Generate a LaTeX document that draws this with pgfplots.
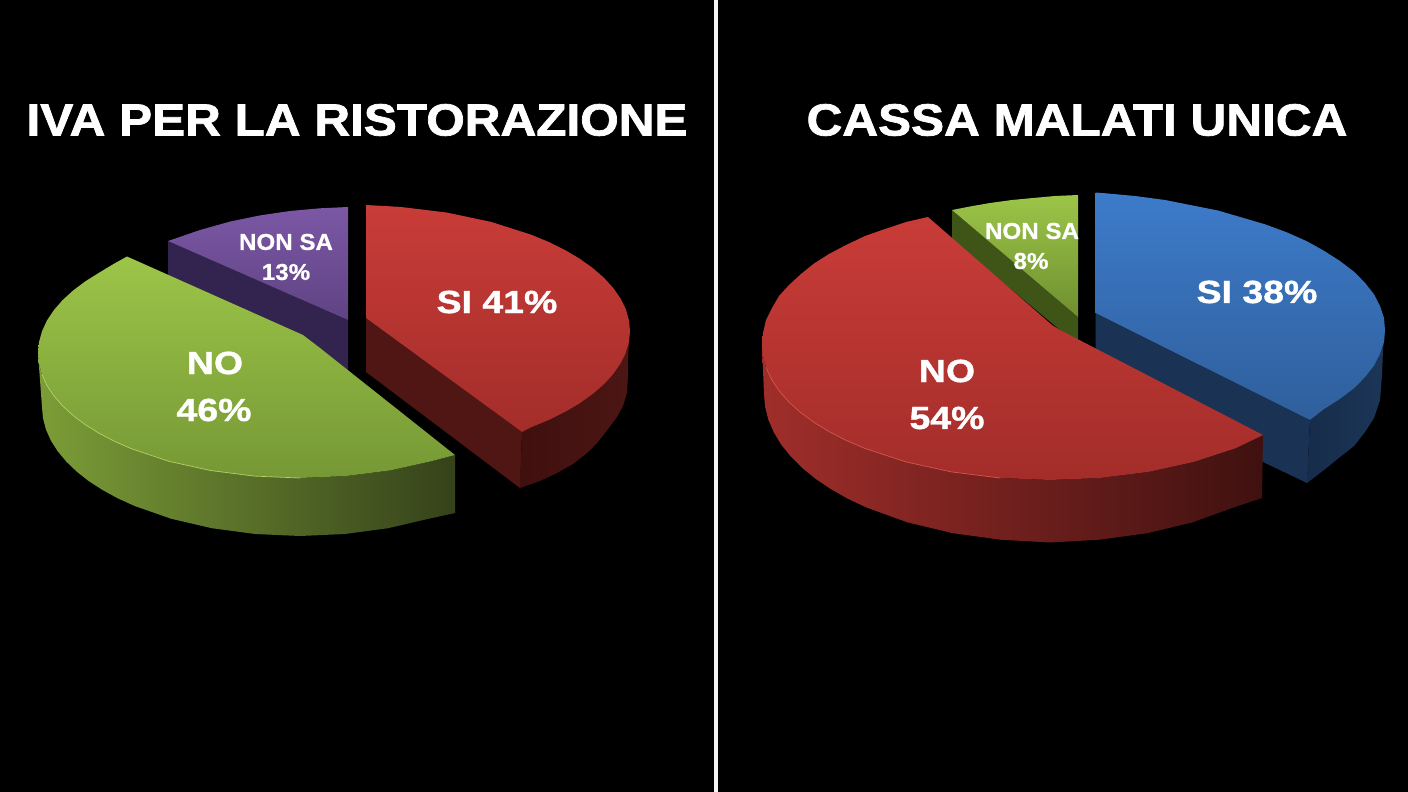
\documentclass[border=0pt]{standalone}
\usepackage{fontspec}
\setmainfont{Liberation Sans}
\newfontfamily\titleface{Liberation Sans}[FakeStretch=1.10,FakeBold=1.6]
\newfontfamily\bigface{Liberation Sans}[FakeStretch=1.17,FakeBold=1.2]
\newfontfamily\smallface{Liberation Sans}[FakeStretch=1.05,FakeBold=0.8]
\usepackage{pgfplots}
\pgfplotsset{compat=1.18}

\definecolor{divider}{HTML}{F4F4F4}
\definecolor{purpletop}{HTML}{7B57A5}
\definecolor{purplelow}{HTML}{5F4383}
\definecolor{purpleside}{HTML}{33234F}
\definecolor{redtop}{HTML}{C93C38}
\definecolor{redlow}{HTML}{A32D2A}
\definecolor{redface}{HTML}{4F1613}
\definecolor{redsidea}{HTML}{3F100E}
\definecolor{redsideb}{HTML}{4C1614}
\definecolor{greentop}{HTML}{9CC548}
\definecolor{greenlow}{HTML}{769835}
\definecolor{greena}{HTML}{7C9D37}
\definecolor{greenb}{HTML}{4E6626}
\definecolor{greenc}{HTML}{35421A}
\definecolor{greenedge}{HTML}{B4D568}
\definecolor{greenlowb}{HTML}{6F8F30}
\definecolor{greenside}{HTML}{3F5518}
\definecolor{bluetop}{HTML}{3D7BCA}
\definecolor{bluelow}{HTML}{2F5F9C}
\definecolor{blueface}{HTML}{1A3354}
\definecolor{bluesidea}{HTML}{162C4A}
\definecolor{bluesideb}{HTML}{1C3658}
\definecolor{bigreda}{HTML}{A02E2A}
\definecolor{bigredb}{HTML}{6E1F1C}
\definecolor{bigredc}{HTML}{3F1110}
\definecolor{rededge}{HTML}{D5574F}

\newcommand{\titlefont}{\titleface\fontsize{45}{45}\selectfont\bfseries}
\newcommand{\bigfont}{\bigface\fontsize{32}{32}\selectfont\bfseries}
\newcommand{\smallfont}{\smallface\fontsize{23}{23}\selectfont\bfseries}

\tikzset{
  part/.style={draw=none},
  lab/.style={text=white, inner sep=0pt, anchor=center},
}

\begin{document}
\begin{tikzpicture}
\begin{axis}[
  at={(0,0)}, anchor=south west,
  width=1408pt, height=792pt, scale only axis,
  xmin=0, xmax=1408, ymin=0, ymax=792,
  y dir=reverse,
  hide axis,
]
% background and divider
\addplot[fill=black, draw=none] coordinates {(0,0) (1408,0) (1408,792) (0,792)};
\addplot[draw=divider, line width=4pt] coordinates {(716,0) (716,792)};

% left pie: NON SA
\addplot[fill=purpleside, draw=none] coordinates {(168,241) (348,320) (348,372) (168,282)};
\addplot[part, top color=purpletop, bottom color=purplelow] coordinates {
  (348,320) (348,207) (320,208.3) (290,211) (260,215.4) (230,221.6) (200,230) (184,235.5) (168,241)};

% left pie: SI
\addplot[fill=redface, draw=none] coordinates {(366,318) (522,432) (520,488) (366,372)};
\addplot[part, left color=redsidea, right color=redsideb] coordinates {
  (522,432) (530.7,427.5) (548.6,420.1) (565,412) (579.7,403.3) (592.7,394) (604,384.2) (613.2,374.1)
  (620.5,363.6) (625.8,352.9) (628.9,342) (630,331)
  (628,357) (628,375) (627,393) (623,406) (617,417) (608,429) (598,442) (587,453) (573,464) (557,473)
  (540,481) (520,488)};
\addplot[part, top color=redtop, bottom color=redlow] coordinates {
  (366,318) (366,205) (400.3,206.9) (447.1,212.6) (491,221.9) (530.7,234.5) (548.6,241.9) (565,250)
  (579.7,258.7) (592.7,268) (604,277.8) (613.2,287.9) (620.5,298.4) (625.8,309.1) (628.9,320) (630,331)
  (628.9,342) (625.8,352.9) (620.5,363.6) (613.2,374.1) (604,384.2) (592.7,394) (579.7,403.3) (565,412)
  (548.6,420.1) (530.7,427.5) (522,432)};

% left pie: NO
\addplot[part, left color=greena, middle color=greenb, right color=greenc] coordinates {
  (38,353) (39,363.9) (42,374.7) (46.9,385.4) (53.8,395.8) (62.5,405.8) (73.1,415.5) (85.4,424.7)
  (99.3,433.4) (114.7,441.4) (131.6,448.8) (169,461.3) (210.4,470.5) (254.5,476.1) (300,478)
  (345.5,476.1) (389.6,470.5) (431,461.3) (455,455) (455,513)
  (429,518.7) (388.2,528.2) (344.8,534) (300,536) (255.2,534) (211.8,528.2) (171,518.7) (134.2,505.8)
  (117.6,498.2) (102.4,489.9) (88.6,481) (76.6,471.5) (66.2,461.5) (57.6,451.1) (50.8,440.4)
  (45.9,429.4) (43,418.2) (42,407) (40,380)};
\addplot[part, top color=greentop, bottom color=greenlow] coordinates {
  (127,256.5) (303,335) (320,348) (455,455) (431,461.3) (389.6,470.5) (345.5,476.1) (300,478) (254.5,476.1)
  (210.4,470.5) (169,461.3) (131.6,448.8) (114.7,441.4) (99.3,433.4) (85.4,424.7) (73.1,415.5)
  (62.5,405.8) (53.8,395.8) (46.9,385.4) (42,374.7) (39,363.9) (38,353) (39,342.1) (42,331.3)
  (46.9,320.6) (53.8,310.2) (62.5,300.2) (73.1,290.5) (85.4,281.3) (99.3,272.6) (113,264.3)};
\addplot[draw=greenedge, line width=0.7pt] coordinates {
  (42,374.7) (46.9,385.4) (53.8,395.8) (62.5,405.8) (73.1,415.5) (85.4,424.7) (99.3,433.4) (114.7,441.4)
  (131.6,448.8) (169,461.3) (210.4,470.5) (254.5,476.1) (300,478)};

% right pie: NON SA
\addplot[fill=greenside, draw=none] coordinates {(952,210) (1078,317) (1078,345) (952,240)};
\addplot[part, top color=greentop, bottom color=greenlowb] coordinates {
  (1078,317) (1078,195) (1055,196) (1033,198) (1012,200) (990,203) (970,206.5) (952,210)};

% right pie: SI
\addplot[fill=blueface, draw=none] coordinates {(1095.5,313) (1310,420) (1307,483) (1095.5,382)};
\addplot[part, left color=bluesidea, right color=bluesideb] coordinates {
  (1310,420) (1324,409.2) (1340,399) (1354,388.3) (1365,377.2) (1374,365.7) (1380,354) (1384,342) (1385,330)
  (1383,350) (1382,375) (1380,400) (1374,418) (1365,432) (1354,446) (1340,457) (1324,470) (1307,483)};
\addplot[part, top color=bluetop, bottom color=bluelow] coordinates {
  (1095.5,313) (1095.5,192.5) (1108,193.5) (1135,196) (1165,200) (1218,210.5) (1265,224.3) (1287,232.4) (1307,241.3)
  (1324,250.8) (1340,261) (1354,271.7) (1365,282.8) (1374,294.3) (1380,306) (1384,318) (1385,330)
  (1384,342) (1380,354) (1374,365.7) (1365,377.2) (1354,388.3) (1340,399) (1324,409.2) (1310,420)};

% right pie: NO
\addplot[part, left color=bigreda, middle color=bigredb, right color=bigredc] coordinates {
  (762,345) (763.1,356.8) (766.4,368.4) (771.8,379.9) (779.4,391.2) (789,402.1) (800.6,412.5) (814.1,422.4)
  (829.4,431.8) (846.4,440.5) (864.9,448.4) (906,461.9) (951.5,471.9) (1000,478) (1050,480) (1100,478)
  (1148.5,471.9) (1194,461.9) (1235.1,448.4) (1263,435) (1262,498)
  (1233.8,507.4) (1193,522.2) (1147.8,533.1) (1099.6,539.7) (1050,542.5) (1000.4,539.7) (952.2,533.1)
  (907,522.2) (866.2,507.4) (847.8,498.7) (830.9,489.1) (815.7,478.9) (802.3,468) (790.8,456.5)
  (781.2,444.6) (773.8,432.3) (768.3,419.7) (765.1,406.9) (764,394) (763,370)};
\addplot[part, top color=redtop, bottom color=redlow] coordinates {
  (928,217) (1052,325) (1060,330) (1263,435) (1235.1,448.4) (1194,461.9) (1148.5,471.9) (1100,478)
  (1050,480) (1000,478) (951.5,471.9) (906,461.9) (864.9,448.4) (846.4,440.5) (829.4,431.8) (814.1,422.4)
  (800.6,412.5) (789,402.1) (779.4,391.2) (771.8,379.9) (766.4,368.4) (763.1,356.8) (762,345)
  (763,333) (766,320) (772,308) (779,296) (789,285) (801,274) (814,263.5) (829,254) (846,245) (865,236)
  (885,229) (906,222)};
\addplot[draw=rededge, line width=0.7pt] coordinates {
  (766.4,368.4) (771.8,379.9) (779.4,391.2) (789,402.1) (800.6,412.5) (814.1,422.4) (829.4,431.8)
  (846.4,440.5) (864.9,448.4) (906,461.9) (951.5,471.9) (1000,478)};

% titles
\node[lab] at (axis cs:357,120) {\titlefont IVA PER LA RISTORAZIONE};
\node[lab] at (axis cs:1077,120) {\titlefont CASSA MALATI UNICA};

% labels
\node[lab] at (axis cs:497,302) {\bigfont SI 41\%};
\node[lab] at (axis cs:215,363) {\bigfont NO};
\node[lab] at (axis cs:214,410) {\bigfont 46\%};
\node[lab] at (axis cs:286,242) {\smallfont NON SA};
\node[lab] at (axis cs:286,272) {\smallfont 13\%};
\node[lab] at (axis cs:1257,292) {\bigfont SI 38\%};
\node[lab] at (axis cs:947,371) {\bigfont NO};
\node[lab] at (axis cs:947,418) {\bigfont 54\%};
\node[lab] at (axis cs:1032,231) {\smallfont NON SA};
\node[lab] at (axis cs:1031,261) {\smallfont 8\%};
\end{axis}
\end{tikzpicture}
\end{document}
